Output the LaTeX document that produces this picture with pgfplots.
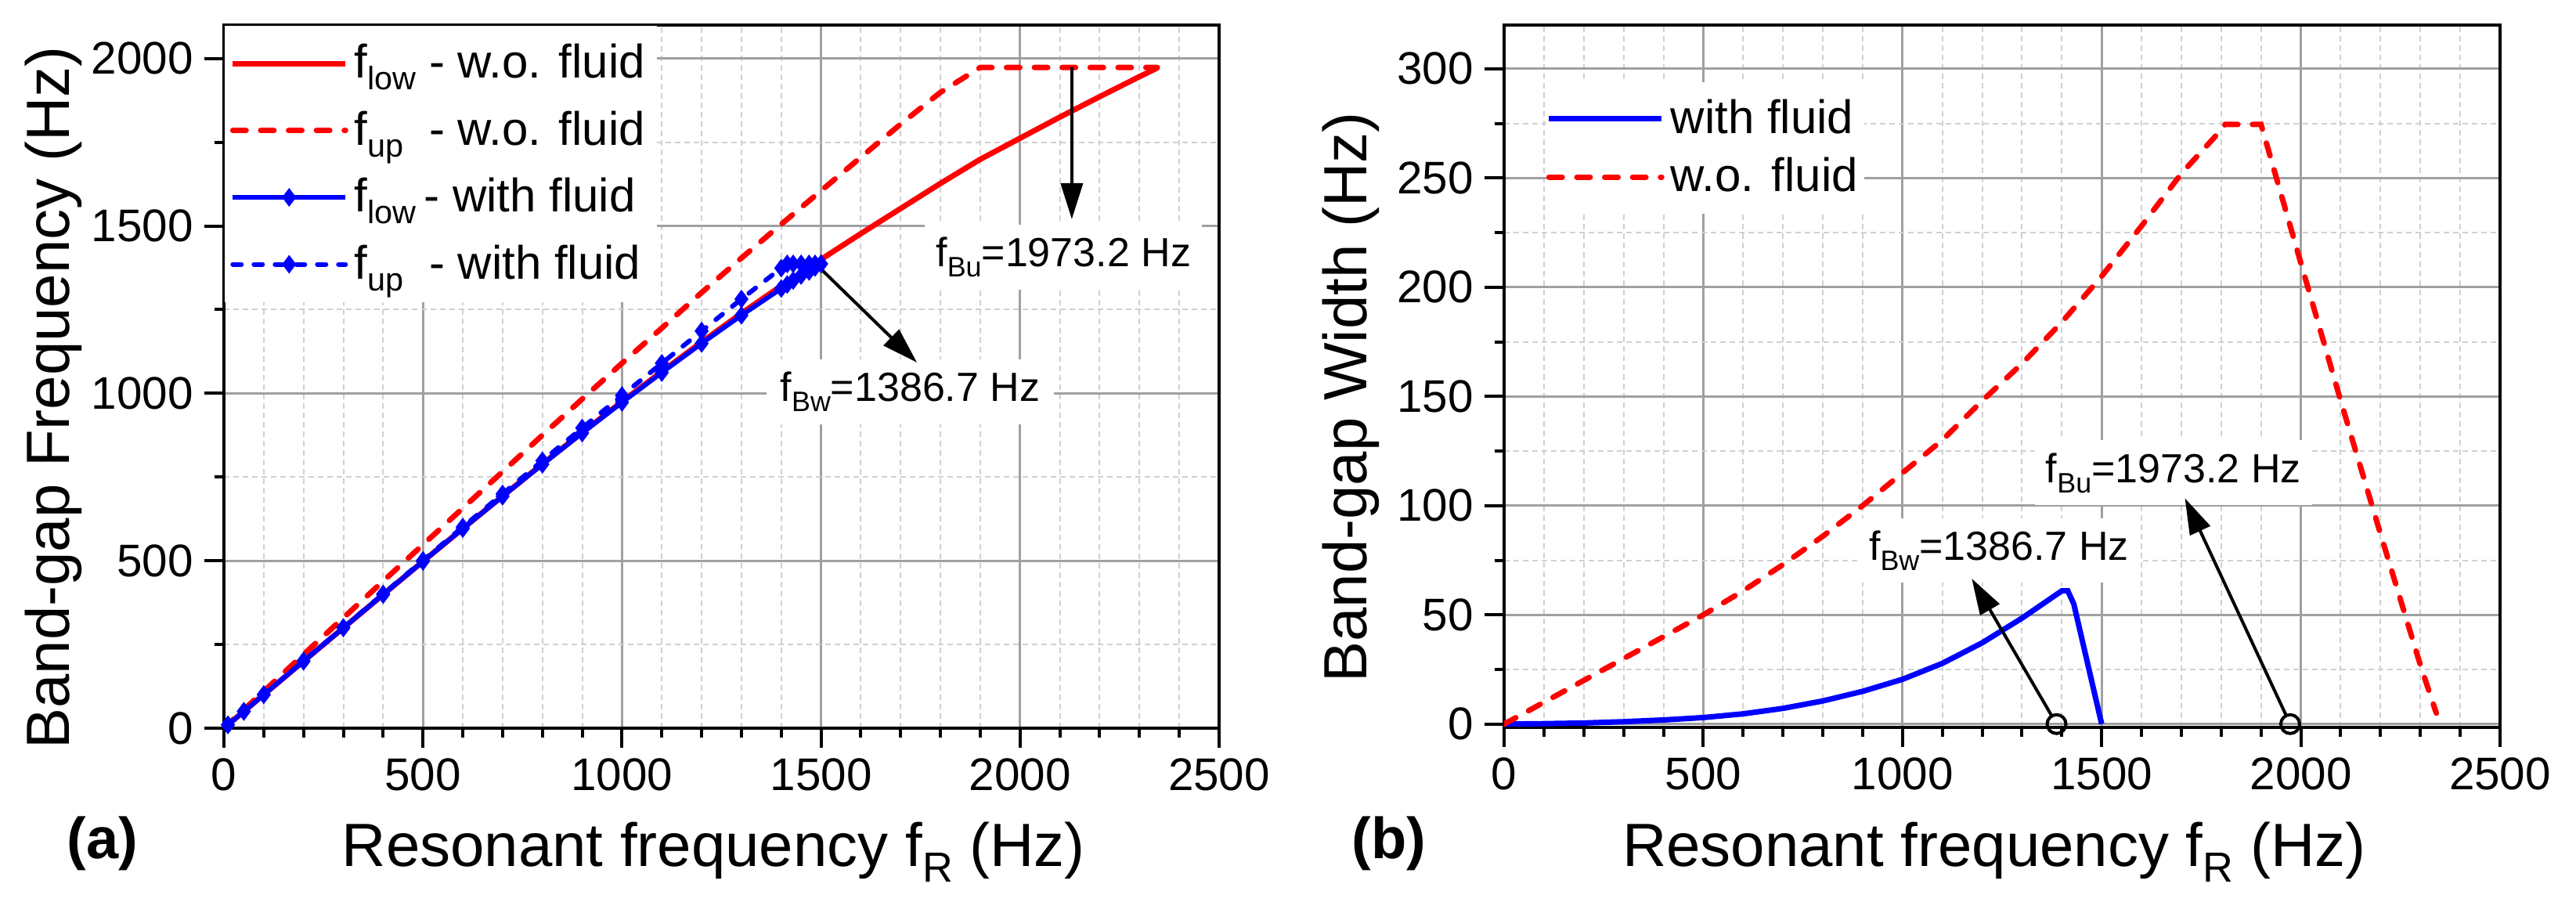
\documentclass[border=0pt]{standalone}
\usepackage{fontspec}
\setmainfont{Liberation Sans}
\usepackage{graphicx}
\usepackage{pgfplots}
\pgfplotsset{compat=1.18}
\usetikzlibrary{arrows.meta}

\definecolor{gridmaj}{RGB}{160,160,160}
\definecolor{gridmin}{RGB}{208,208,208}

% subscripts as Origin sets them: 69% size, lowered a quarter em
\newcommand{\sub}[1]{\raisebox{-0.25em}{\scalebox{0.69}{#1}}}
\newcommand{\upsub}{\sub{\rlap{up}\phantom{low}}}

\pgfplotsset{
  panel/.style={
    scale only axis, anchor=south west,
    xmin=0, xmax=2500, xtick={0,500,...,2500}, minor x tick num=4,
    tick align=outside, tick pos=left,
    major tick length=6.25pt, minor tick length=3pt,
    major tick style={black, line width=1pt},
    minor tick style={black, line width=1pt},
    axis line style={black, line width=1pt},
    grid=both,
    major grid style={gridmaj, line width=0.75pt},
    minor grid style={gridmin, line width=0.5pt, dash pattern=on 1.75pt off 1.25pt},
    tick label style={font=\fontsize{14.6}{17}\selectfont},
    label style={font=\fontsize{19.5}{22}\selectfont},
    /pgf/number format/assume math mode=true,
    /pgf/number format/1000 sep={},
    scaled ticks=false,
    legend cell align=left,
    legend image code/.code={\draw[mark repeat=2,mark phase=2,##1] plot coordinates {(0pt,0pt) (18pt,0pt) (36pt,0pt)};},
  },
  redsolid/.style={red, line width=1.75pt},
  reddash/.style={red, line width=1.75pt, dash pattern=on 4.25pt off 4.65pt, line cap=round},
  bluesolid/.style={blue, line width=1.5pt, mark=diamond*, mark size=1.75pt, mark options={solid}},
  bluedash/.style={blue, line width=1.5pt, dash pattern=on 2.75pt off 4pt, line cap=round, mark=diamond*, mark size=1.75pt, mark options={solid}},
}
\tikzset{
  ann/.style={fill=white, font=\fontsize{13}{15}\selectfont, inner xsep=3.5pt, inner ysep=4pt},
  arr/.style={black, line width=1pt, -{Triangle[length=11.5pt,width=7pt]}},
}

\begin{document}
\begin{tikzpicture}
\useasboundingbox (0,0) rectangle (822.5pt,288pt);

% ---------------- panel (a)
\begin{axis}[panel,
  at={(71.5pt,55.5pt)}, width=317.75pt, height=224.5pt,
  ymin=0, ymax=2100, ytick={0,500,...,2000}, minor y tick num=1,
  xlabel={Resonant frequency f\sub{R} (Hz)},
  ylabel={Band-gap Frequency (Hz)},
  xlabel style={at={(axis description cs:0.492,-0.197)}, anchor=base},
  ylabel style={at={(axis description cs:-0.155,0.47)}, anchor=base},
  legend style={at={(axis description cs:0,1)}, anchor=north west, draw=none, fill=white,
    inner xsep=1.75pt, inner ysep=3.9pt, row sep=5pt,
    font=\fontsize{15}{17}\selectfont, nodes={inner sep=2pt, text depth=0.15em}},
]
\addplot[redsolid] coordinates {
 (0,0) (100,100) (200,200) (300,299.5) (400,399) (500,498) (600,596) (700,693)
 (800,789) (900,883) (1000,975) (1100,1065) (1200,1153) (1300,1239) (1400,1321)
 (1500,1400) (1600,1477) (1700,1552) (1800,1627) (1900,1699) (2000,1762)
 (2100,1825) (2200,1886) (2300,1946) (2345,1972)};
\addlegendentry{f\sub{low} - w.o. fluid}
\addplot[reddash] coordinates {
 (0,0) (100,110) (200,220) (300,329.5) (400,439) (500,548) (600,657) (700,766)
 (800,875) (900,983) (1000,1090) (1100,1195) (1200,1301) (1300,1404) (1400,1505)
 (1500,1605) (1600,1705) (1700,1804) (1800,1899) (1900,1973.2) (2345,1973.2)};
\addlegendentry{f\upsub{} - w.o. fluid}
\addplot[bluesolid] coordinates {
 (10,10) (50,50) (100,100) (200,200) (300,299.5) (400,399) (500,498) (600,596)
 (700,692.5) (800,788) (900,881.5) (1000,973) (1100,1062) (1200,1149) (1300,1233)
 (1400,1313) (1415,1325) (1430,1337) (1450,1352) (1470,1364) (1485,1376) (1500,1386.7)};
\addlegendentry{f\sub{low}\,- with fluid}
\addplot[bluedash] coordinates {
 (10,10) (50,50.1) (100,100.2) (200,200.5) (300,300.6) (400,400.9) (500,501)
 (600,600.7) (700,699.7) (800,798.6) (900,896.5) (1000,993.5) (1100,1089.8)
 (1200,1186.2) (1300,1281.5) (1400,1374) (1415,1386.7) (1430,1386.7) (1450,1386.7)
 (1470,1386.7) (1485,1386.7) (1500,1386.7)};
\addlegendentry{f\upsub{} - with fluid}

\node[ann] at (axis cs:2109,1407) {f\sub{Bu}=1973.2 Hz};
\node[ann, inner xsep=4.5pt] at (axis cs:1724,1005) {f\sub{Bw}=1386.7 Hz};
\draw[arr] (axis cs:2130,1973.2) -- (axis cs:2130,1520);
\draw[arr] (axis cs:1475,1400) -- (axis cs:1741,1092);
\end{axis}

% ---------------- panel (b)
\begin{axis}[panel,
  at={(480.25pt,55.75pt)}, width=318pt, height=224.25pt,
  ymin=-1.5, ymax=320, ytick={0,50,...,300}, minor y tick num=1,
  xlabel={Resonant frequency f\sub{R} (Hz)},
  ylabel={Band-gap Width (Hz)},
  xlabel style={at={(axis description cs:0.492,-0.198)}, anchor=base},
  ylabel style={at={(axis description cs:-0.1376,0.47)}, anchor=base},
  legend style={at={(axis description cs:0,1)}, anchor=north west, xshift=13.25pt, yshift=-18pt,
    draw=none, fill=white, inner xsep=0pt, inner ysep=3.6pt, row sep=2.2pt,
    font=\fontsize{15}{17}\selectfont, nodes={inner sep=2pt, text depth=0.15em}},
]
\addplot[blue, line width=1.75pt] coordinates {
 (0,0) (100,0.2) (200,0.5) (300,1.1) (400,1.9) (500,3.0) (600,4.7) (700,7.2)
 (800,10.6) (900,15) (1000,20.5) (1100,27.8) (1200,37.2) (1300,48.5) (1380,58.5)
 (1400,61) (1415,61) (1430,55) (1500,0)};
\addlegendentry{with fluid}
\addplot[reddash] coordinates {
 (0,0) (100,10) (200,20) (300,30) (400,40) (500,50) (600,61) (700,73) (800,86)
 (900,100) (1000,115) (1100,130) (1200,148) (1300,165) (1400,184) (1500,205)
 (1600,228) (1700,252) (1800,272) (1810,274.5) (1900,274.5) (2000,211)
 (2100,148) (2200,87) (2300,27) (2340,5)};
\addlegendentry{w.o. fluid}
\addplot[only marks, mark=o, mark size=3pt, black, line width=1pt, forget plot]
 coordinates {(1386.7,0) (1973.2,0)};

\node[ann] at (axis cs:1242,79.5) {f\sub{Bw}=1386.7 Hz};
\node[ann] at (axis cs:1680,115) {f\sub{Bu}=1973.2 Hz};
\draw[arr, shorten <=3pt] (axis cs:1386.7,0) -- (axis cs:1174,66.6);
\draw[arr, shorten <=3pt] (axis cs:1973.2,0) -- (axis cs:1709,103.4);
\end{axis}

\node[font=\bfseries\fontsize{18.5}{20}\selectfont] at (32.75pt,18.75pt) {(a)};
\node[font=\bfseries\fontsize{18.5}{20}\selectfont] at (443.5pt,18.75pt) {(b)};
\end{tikzpicture}
\end{document}
